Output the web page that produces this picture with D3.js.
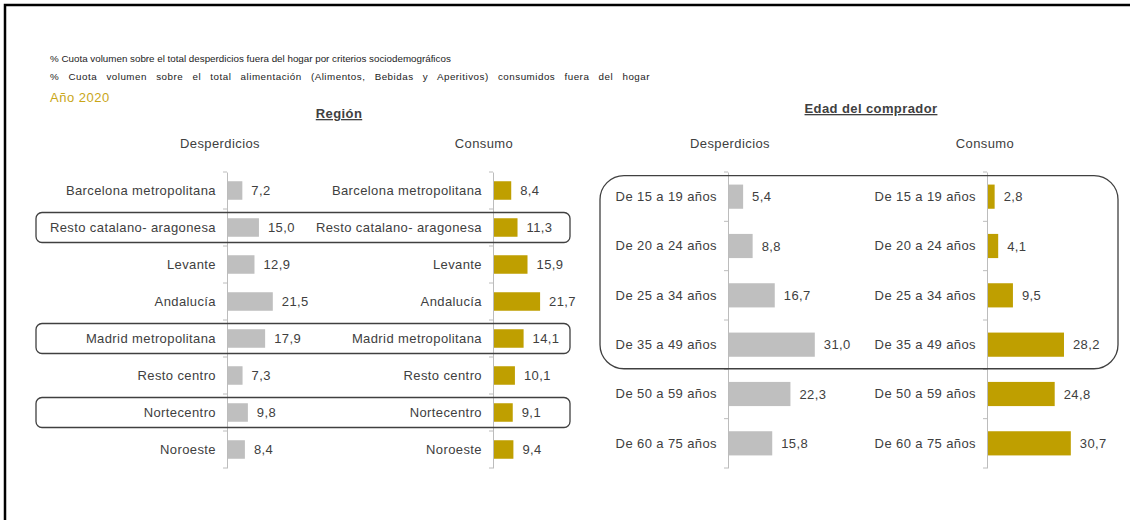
<!DOCTYPE html>
<html>
<head>
<meta charset="utf-8">
<script src="https://cdn.jsdelivr.net/npm/d3@7"></script>
<style>
  body { margin: 0; background: #fff; }
  svg { font-family: "Liberation Sans", Arial, sans-serif; }
</style>
</head>
<body>
<div id="chart"></div>
<script>
// data
var regiones = ["Barcelona metropolitana", "Resto catalano- aragonesa", "Levante", "Andalucía",
  "Madrid metropolitana", "Resto centro", "Nortecentro", "Noroeste"];
var regionDesperdicios = [7.2, 15.0, 12.9, 21.5, 17.9, 7.3, 9.8, 8.4];
var regionConsumo = [8.4, 11.3, 15.9, 21.7, 14.1, 10.1, 9.1, 9.4];
var regionMarcadas = ["Resto catalano- aragonesa", "Madrid metropolitana", "Nortecentro"];

var edades = ["De 15 a 19 años", "De 20 a 24 años", "De 25 a 34 años", "De 35 a 49 años",
  "De 50 a 59 años", "De 60 a 75 años"];
var edadDesperdicios = [5.4, 8.8, 16.7, 31.0, 22.3, 15.8];
var edadConsumo = [2.8, 4.1, 9.5, 28.2, 24.8, 30.7];
var edadMarcadas = ["De 15 a 19 años", "De 35 a 49 años"];

var titulos = [
  "% Cuota volumen sobre el total desperdicios fuera del hogar por criterios sociodemográficos",
  "% Cuota volumen sobre el total alimentación (Alimentos, Bebidas y Aperitivos) consumidos fuera del hogar"
];
var anchoTitulos = [396, 600];
var anio = "Año 2020";

var W = 1130, H = 520;
var GRIS = "#bfbfbf", ORO = "#bf9f00", TXT = "#404040";
var FS = 13, LS = 0.4;
var fmt = function(v) { return d3.format(".1f")(v).replace(".", ","); };

var svg = d3.select("#chart").append("svg")
  .attr("width", W)
  .attr("height", H);

// frame
svg.append("path")
  .attr("d", "M5,520 V5 H1130")
  .attr("fill", "none")
  .attr("stroke", "#000")
  .attr("stroke-width", 2.5);

// subtitles: widen the spacing up to the original widths
svg.selectAll("text.titulo")
  .data(titulos)
  .enter().append("text")
  .attr("class", "titulo")
  .attr("x", 50)
  .attr("y", (d, i) => 62 + i * 18)
  .attr("font-size", 9.8)
  .attr("letter-spacing", (d, i) => i ? 0.5 : 0)
  .attr("fill", "#222")
  .text(d => d)
  .each(function(d, i) {
    var natural = this.getComputedTextLength();
    var huecos = d.split(" ").length - 1;
    var extra = Math.max(0, (anchoTitulos[i] - natural) / huecos);
    d3.select(this).attr("word-spacing", extra);
  });

svg.append("text")
  .attr("x", 50)
  .attr("y", 102)
  .attr("font-size", 13)
  .attr("letter-spacing", 0.5)
  .attr("fill", "#c9a617")
  .text(anio);

function seccion(titulo, cx, y) {
  svg.append("text")
    .attr("x", cx)
    .attr("y", y)
    .attr("text-anchor", "middle")
    .attr("font-size", FS)
    .attr("letter-spacing", LS)
    .attr("font-weight", "bold")
    .attr("text-decoration", "underline")
    .attr("fill", TXT)
    .text(titulo);
}

seccion("Región", 339, 118);
seccion("Edad del comprador", 871, 113);

// one horizontal bar chart
function barras(cats, vals, opts) {
  var y = d3.scaleBand()
    .domain(cats)
    .range([172, 468])
    .paddingInner(opts.pad)
    .paddingOuter(opts.pad / 2);

  var x = d3.scaleLinear()
    .domain([0, 10])
    .range([opts.x0, opts.x0 + opts.k * 10]);

  var g = svg.append("g");

  g.append("text")
    .attr("x", opts.hx)
    .attr("y", 148)
    .attr("text-anchor", "middle")
    .attr("font-size", FS)
    .attr("letter-spacing", LS)
    .attr("fill", TXT)
    .text(opts.titulo);

  g.selectAll("rect")
    .data(cats)
    .enter().append("rect")
    .attr("x", x(0))
    .attr("y", d => y(d))
    .attr("width", (d, i) => x(vals[i]) - x(0))
    .attr("height", y.bandwidth())
    .attr("fill", opts.color);

  g.selectAll("text.valor")
    .data(cats)
    .enter().append("text")
    .attr("class", "valor")
    .attr("x", (d, i) => x(vals[i]) + 9)
    .attr("y", d => y(d) + y.bandwidth() / 2)
    .attr("dy", "0.35em")
    .attr("font-size", FS)
    .attr("letter-spacing", LS)
    .attr("fill", TXT)
    .text((d, i) => fmt(vals[i]));

  var ax = g.append("g")
    .attr("transform", "translate(" + x(0) + ",0)")
    .call(d3.axisLeft(y).tickSize(0).tickPadding(11));
  ax.select(".domain").attr("stroke", "#bcbcbc");
  ax.selectAll("text")
    .attr("font-size", FS)
    .attr("letter-spacing", LS)
    .attr("font-family", "Liberation Sans, Arial, sans-serif")
    .attr("fill", TXT);

  // tick marks at category boundaries
  var bordes = cats.map(d => y(d) - y.step() * y.paddingInner() / 2).concat([468]);
  g.selectAll("line.marca")
    .data(bordes)
    .enter().append("line")
    .attr("class", "marca")
    .attr("x1", x(0) - 4)
    .attr("x2", x(0))
    .attr("y1", d => d)
    .attr("y2", d => d)
    .attr("stroke", "#bcbcbc");

  return y;
}

var yR = barras(regiones, regionDesperdicios,
  { x0: 227, k: 2.13, pad: 0.5, color: GRIS, titulo: "Desperdicios", hx: 220 });
barras(regiones, regionConsumo,
  { x0: 493, k: 2.17, pad: 0.5, color: ORO, titulo: "Consumo", hx: 484 });

var yE = barras(edades, edadDesperdicios,
  { x0: 728, k: 2.8, pad: 0.51, color: GRIS, titulo: "Desperdicios", hx: 730 });
barras(edades, edadConsumo,
  { x0: 987, k: 2.73, pad: 0.51, color: ORO, titulo: "Consumo", hx: 985 });

// highlight boxes
svg.selectAll("rect.marco")
  .data(regionMarcadas)
  .enter().append("rect")
  .attr("class", "marco")
  .attr("x", 36)
  .attr("width", 534)
  .attr("y", d => yR(d) + yR.bandwidth() / 2 - 15)
  .attr("height", 30)
  .attr("rx", 6)
  .attr("fill", "none")
  .attr("stroke", "#404040")
  .attr("stroke-width", 1.3);

svg.append("rect")
  .attr("x", 600)
  .attr("width", 518)
  .attr("y", yE(edadMarcadas[0]) - 9)
  .attr("height", yE(edadMarcadas[1]) + yE.bandwidth() + 12 - (yE(edadMarcadas[0]) - 9))
  .attr("rx", 24)
  .attr("fill", "none")
  .attr("stroke", "#404040")
  .attr("stroke-width", 1.3);
</script>
</body>
</html>
